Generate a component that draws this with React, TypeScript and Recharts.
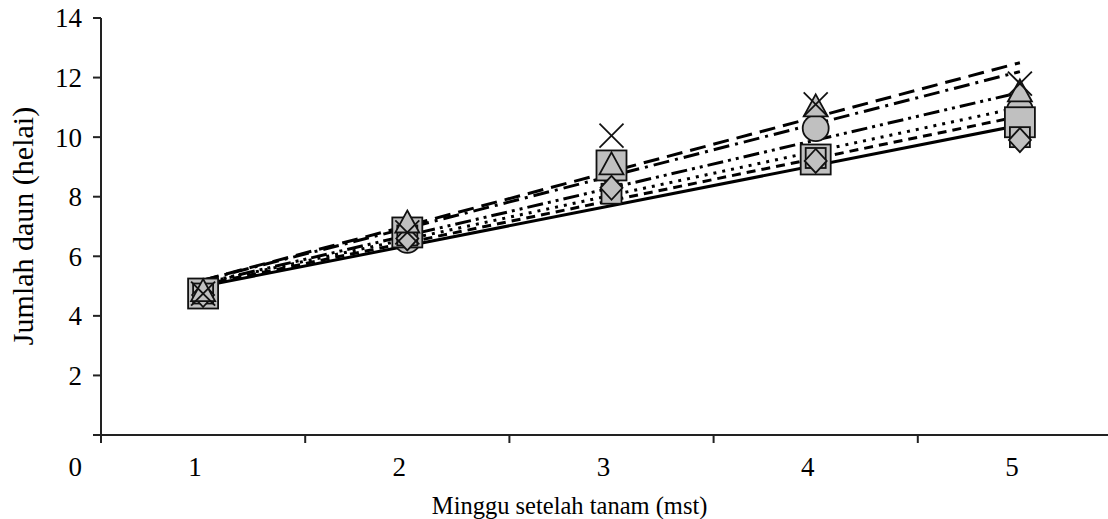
import React from 'react';
import { ComposedChart, Line, XAxis, YAxis, Label } from 'recharts';

const weeks = [1, 2, 3, 4, 5];
const circleSeries = [4.7, 6.55, 8.9, 10.3, 10.9];
const bigSquareSeries = [4.75, 6.8, 9.05, 9.25, 10.5];
const smallSquareSeries = [4.75, 6.7, 8.1, 9.3, 10.0];
const diamondSeries = [4.7, 6.6, 8.3, 9.2, 9.9];
const triangleSeries = [4.8, 7.1, 9.05, 11.0, 11.5];
const crossSeries = [4.75, 6.8, 10.05, 11.1, 11.8];

const trendWeeks = [1, 5];
const trendLongDash = [5.2, 12.5];
const trendDashDot = [5.2, 12.2];
const trendDashDotDot = [5.1, 11.5];
const trendDotted = [5.1, 11.0];
const trendShortDash = [5.05, 10.7];
const trendSolid = [5.0, 10.4];

const xTicks = [0.5, 1, 1.5, 2, 2.5, 3, 3.5, 4, 4.5, 5, 5.5];
const yTicks = [0, 2, 4, 6, 8, 10, 12, 14];

const FONT = '"Liberation Serif", "Times New Roman", serif';
const GRAY = '#c0c0c0';

const toRows = (xs: number[], ys: number[]) => xs.map((w, i) => ({ week: w, v: ys[i] }));

const makeDot = (kind: string) => (p: any) => {
  const { cx, cy, index } = p;
  const key = `${kind}-${index}`;
  if (cx == null || cy == null) return <g key={key} />;
  const sw = 1.8;
  switch (kind) {
    case 'circle':
      return <circle key={key} cx={cx} cy={cy} r={13} fill={GRAY} stroke="#111" strokeWidth={sw} />;
    case 'bigSquare':
      return <rect key={key} x={cx - 15} y={cy - 15} width={30} height={30} fill={GRAY} stroke="#111" strokeWidth={sw} />;
    case 'smallSquare':
      return <rect key={key} x={cx - 10} y={cy - 10} width={20} height={20} fill={GRAY} stroke="#111" strokeWidth={sw} />;
    case 'diamond':
      return <polygon key={key} points={`${cx},${cy - 12} ${cx + 11},${cy} ${cx},${cy + 12} ${cx - 11},${cy}`} fill={GRAY} stroke="#111" strokeWidth={sw} />;
    case 'triangle':
      return <polygon key={key} points={`${cx},${cy - 13} ${cx + 12},${cy + 9} ${cx - 12},${cy + 9}`} fill={GRAY} stroke="#111" strokeWidth={sw} />;
    case 'cross':
    default:
      return (
        <g key={key} stroke="#111" strokeWidth={sw}>
          <line x1={cx - 12} y1={cy - 12} x2={cx + 12} y2={cy + 12} />
          <line x1={cx - 12} y1={cy + 12} x2={cx + 12} y2={cy - 12} />
        </g>
      );
  }
};

const XTick = (p: any) => {
  const { x, y, payload } = p;
  const v = payload.value;
  if (!Number.isInteger(v)) {
    return <line x1={x} y1={y} x2={x} y2={y + 8} stroke="#222" strokeWidth={2} />;
  }
  return (
    <text x={x - 8} y={y + 32} dy="0.35em" textAnchor="middle" fontFamily={FONT} fontSize={27} fill="#000">
      {v}
    </text>
  );
};

const YTick = (p: any) => {
  const { x, y, payload } = p;
  const v = payload.value;
  return (
    <text x={x} y={v === 0 ? y + 32 : y} dy="0.35em" textAnchor="end" fontFamily={FONT} fontSize={27} fill="#000">
      {v}
    </text>
  );
};

const markerSeries: [string, number[]][] = [
  ['circle', circleSeries],
  ['bigSquare', bigSquareSeries],
  ['smallSquare', smallSquareSeries],
  ['diamond', diamondSeries],
  ['triangle', triangleSeries],
  ['cross', crossSeries],
];

const trendSeries: [string, number[], string | undefined][] = [
  ['tLong', trendLongDash, '16 8'],
  ['tDashDot', trendDashDot, '16 6 3 6'],
  ['tDashDotDot', trendDashDotDot, '16 5 3 5 3 5'],
  ['tDot', trendDotted, '3 6'],
  ['tShort', trendShortDash, '9 6'],
  ['tSolid', trendSolid, undefined],
];

export default function App() {
  return (
    <div style={{ position: 'fixed', left: 0, top: 0, width: 1108, height: 519, overflow: 'hidden', background: '#fff' }}>
      <ComposedChart width={1130} height={519} margin={{ top: 18, right: 8, left: 0, bottom: 0 }}>
        <XAxis
          dataKey="week"
          type="number"
          domain={[0.5, 5.5]}
          allowDataOverflow
          ticks={xTicks}
          interval={0}
          tickLine={false}
          tickSize={0}
          tickMargin={0}
          tick={<XTick />}
          height={84}
          axisLine={{ stroke: '#222', strokeWidth: 2 }}
        >
          <Label
            content={(lp: any) => {
              const vb = lp.viewBox || { x: 101, y: 435, width: 1021 };
              return (
                <text x={vb.x + vb.width * 0.459} y={vb.y + 70} dy="0.35em" textAnchor="middle" fontFamily={FONT} fontSize={24.5} fill="#000">
                  Minggu setelah tanam (mst)
                </text>
              );
            }}
          />
        </XAxis>
        <YAxis
          type="number"
          domain={[0, 14]}
          ticks={yTicks}
          interval={0}
          width={101}
          tickSize={8}
          tickMargin={11}
          tick={<YTick />}
          tickLine={{ stroke: '#222', strokeWidth: 2 }}
          axisLine={{ stroke: '#222', strokeWidth: 2 }}
        >
          <Label
            content={() => (
              <text x={22} y={226} dy="0.35em" textAnchor="middle" transform="rotate(-90, 22, 226)" fontFamily={FONT} fontSize={30} fill="#000">
                Jumlah daun (helai)
              </text>
            )}
          />
        </YAxis>
        {markerSeries.map(([kind, vals]) => (
          <Line
            key={kind}
            data={toRows(weeks, vals)}
            dataKey="v"
            stroke="none"
            dot={makeDot(kind)}
            activeDot={false}
            isAnimationActive={false}
            legendType="none"
          />
        ))}
        {trendSeries.map(([name, vals, dash]) => (
          <Line
            key={name}
            data={toRows(trendWeeks, vals)}
            dataKey="v"
            stroke="#000"
            strokeWidth={3}
            strokeDasharray={dash}
            dot={false}
            activeDot={false}
            isAnimationActive={false}
            legendType="none"
          />
        ))}
      </ComposedChart>
    </div>
  );
}
